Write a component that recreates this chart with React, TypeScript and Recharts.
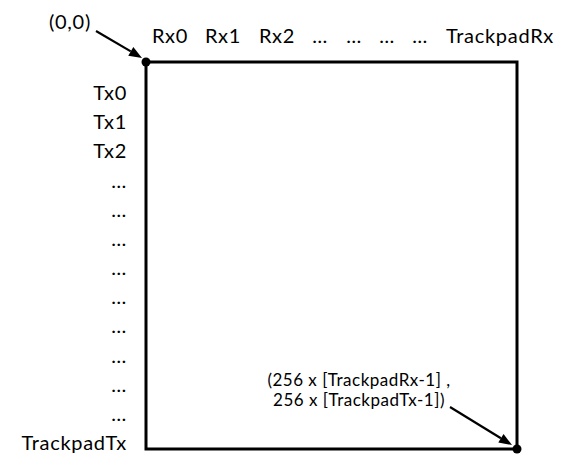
import React from 'react';
import {
  ScatterChart, Scatter, XAxis, YAxis, ReferenceArea, ReferenceLine, ReferenceDot,
} from 'recharts';

// receiver columns (top) and transmitter rows (left)
const rxLabels = ['Rx0', 'Rx1', 'Rx2', '…', '…', '…', '…', 'TrackpadRx'];
const rxTicks = [24, 77, 131, 174, 208, 241, 274, 354];
const txLabels = ['Tx0', 'Tx1', 'Tx2', '…', '…', '…', '…', '…', '…', '…', '…', '…', 'TrackpadTx'];

// pad extent in the drawing units
const padWidth = 371;
const padHeight = 387;
const rowPitch = 29.17;
const rowStart = 31;
const txTicks = txLabels.map((_, i) => rowStart + i * rowPitch);

const corners = [
  { x: 0, y: 0 },
  { x: padWidth, y: padHeight },
];

const originNote = '(0,0)';
const endNote = ['(256 x [TrackpadRx-1] ,', '256 x [TrackpadTx-1])'];

const FONT = 'Lato, "Open Sans", sans-serif';
const labelStyle = { fontSize: 20, fill: '#000', fontFamily: FONT, letterSpacing: 0.7 };
const noteStyle = { fontSize: 17, fill: '#000', fontFamily: FONT, letterSpacing: 0.5 };

function Arrow(props: any) {
  const { x1, y1, x2, y2 } = props;
  const a = Math.atan2(y2 - y1, x2 - x1);
  const len = 13;
  const w = 5;
  const bx = x2 - len * Math.cos(a);
  const by = y2 - len * Math.sin(a);
  const px = -Math.sin(a) * w;
  const py = Math.cos(a) * w;
  return (
    <g>
      <line x1={x1} y1={y1} x2={bx} y2={by} stroke="#000" strokeWidth={2.2} />
      <polygon points={`${x2},${y2} ${bx + px},${by + py} ${bx - px},${by - py}`} fill="#000" />
    </g>
  );
}

export default function App() {
  return (
    <div style={{ position: 'absolute', left: 0, top: 0, width: 565, height: 457, background: '#fff' }}>
      <ScatterChart width={565} height={457} margin={{ top: 0, right: 48, bottom: 8, left: 0 }}>
        <XAxis
          type="number"
          dataKey="x"
          orientation="top"
          height={62}
          domain={[0, padWidth]}
          ticks={rxTicks}
          tickFormatter={(v: number) => rxLabels[rxTicks.indexOf(v)]}
          axisLine={false}
          tickLine={false}
          tickSize={0}
          tickMargin={19}
          interval={0}
          tick={labelStyle}
        />
        <YAxis
          type="number"
          dataKey="y"
          width={146}
          reversed
          domain={[0, padHeight]}
          ticks={txTicks}
          tickFormatter={(v: number) => txLabels[txTicks.indexOf(v)]}
          axisLine={false}
          tickLine={false}
          tickSize={0}
          tickMargin={19}
          interval={0}
          tick={labelStyle}
        />
        <ReferenceArea x1={0} x2={padWidth} y1={0} y2={padHeight} fill="none" fillOpacity={0} stroke="#000" strokeWidth={3} />
        <ReferenceLine segment={[{ x: -50, y: -31 }, { x: -4, y: -4 }]} ifOverflow="visible" shape={Arrow} />
        <ReferenceLine segment={[{ x: 304, y: 345 }, { x: 366, y: 383 }]} ifOverflow="visible" shape={Arrow} />
        <ReferenceDot x={-76} y={-40} r={0} ifOverflow="visible"
          label={{ value: originNote, position: 'center', ...labelStyle }} />
        <ReferenceDot x={213} y={318} r={0} ifOverflow="visible"
          label={{ value: endNote[0], position: 'center', ...noteStyle }} />
        <ReferenceDot x={213} y={338} r={0} ifOverflow="visible"
          label={{ value: endNote[1], position: 'center', ...noteStyle }} />
        <Scatter
          data={corners}
          fill="#000"
          isAnimationActive={false}
          shape={(p: any) => <circle cx={p.cx} cy={p.cy} r={4.5} fill="#000" />}
        />
      </ScatterChart>
    </div>
  );
}
